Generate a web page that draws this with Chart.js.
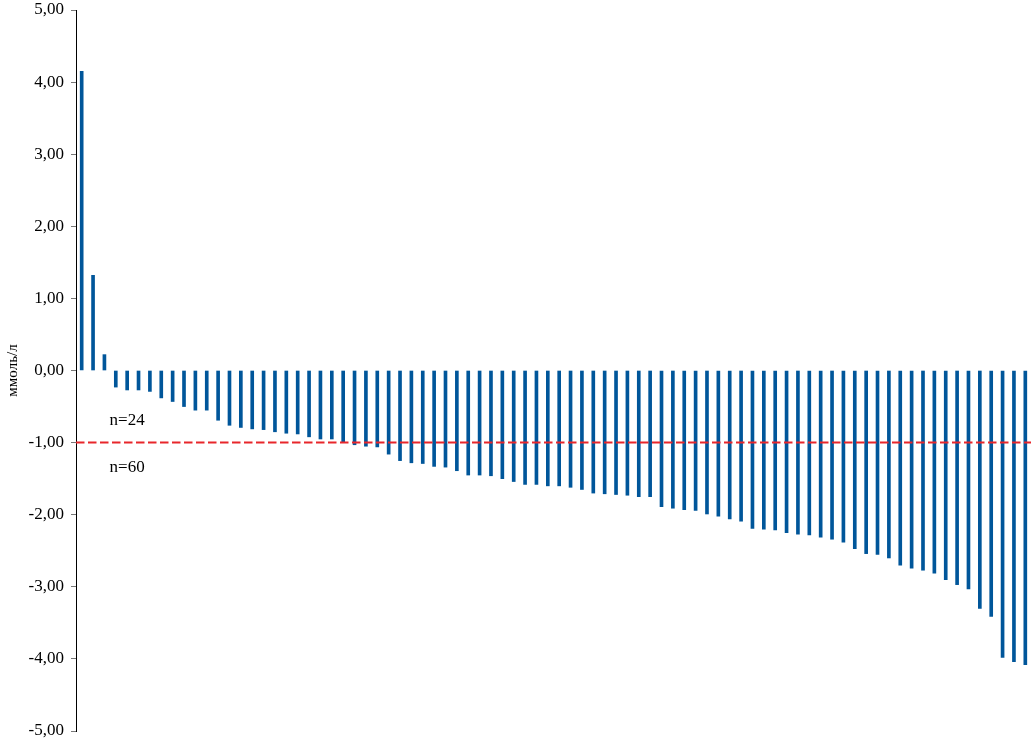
<!DOCTYPE html>
<html>
<head>
<meta charset="utf-8">
<script src="https://cdn.jsdelivr.net/npm/chart.js@4/dist/chart.umd.min.js"></script>
<style>
  body { margin: 0; background: #fff; }
</style>
</head>
<body>
<canvas id="deltaChart" width="1031" height="742"></canvas>
<script>
// change per patient, sorted, mmol/l
var values = [4.15, 1.32, 0.22, -0.23, -0.27, -0.27, -0.29, -0.38, -0.43, -0.50,
  -0.55, -0.55, -0.69, -0.76, -0.79, -0.81, -0.82, -0.85, -0.87, -0.88,
  -0.92, -0.95, -0.95, -0.99, -1.03, -1.05, -1.06, -1.16, -1.25, -1.28,
  -1.29, -1.33, -1.34, -1.39, -1.45, -1.45, -1.46, -1.50, -1.54, -1.58,
  -1.58, -1.60, -1.60, -1.62, -1.65, -1.70, -1.71, -1.72, -1.73, -1.75,
  -1.75, -1.89, -1.91, -1.93, -1.94, -1.99, -2.02, -2.06, -2.09, -2.19,
  -2.20, -2.21, -2.25, -2.27, -2.28, -2.31, -2.34, -2.38, -2.47, -2.54,
  -2.55, -2.60, -2.70, -2.74, -2.77, -2.81, -2.90, -2.97, -3.03, -3.30,
  -3.41, -3.98, -4.04, -4.08];
var labels = values.map(function (v, i) { return i + 1; });
var threshold = -1;
var countAbove = 'n=24';
var countBelow = 'n=60';

var serif = '"Liberation Serif", "Times New Roman", serif';

// dashed threshold line and the two counts
var thresholdPlugin = {
  id: 'threshold',
  afterDatasetsDraw: function (chart) {
    var ctx = chart.ctx;
    var area = chart.chartArea;
    var y = chart.scales.y;
    var x = chart.scales.x;
    var py = y.getPixelForValue(threshold);
    ctx.save();
    ctx.strokeStyle = '#e8262b';
    ctx.lineWidth = 2;
    ctx.setLineDash([8.5, 3.5]);
    ctx.beginPath();
    ctx.moveTo(area.left, py);
    ctx.lineTo(area.right, py);
    ctx.stroke();
    ctx.setLineDash([]);
    ctx.fillStyle = '#000';
    ctx.font = '17px ' + serif;
    ctx.textAlign = 'center';
    ctx.textBaseline = 'middle';
    ctx.fillText(countAbove, x.getPixelForValue(4), y.getPixelForValue(-0.69));
    ctx.fillText(countBelow, x.getPixelForValue(4), y.getPixelForValue(-1.34));
    ctx.restore();
  }
};

new Chart(document.getElementById('deltaChart'), {
  type: 'bar',
  data: {
    labels: labels,
    datasets: [{
      data: values,
      backgroundColor: '#00569a',
      barThickness: 3
    }]
  },
  options: {
    responsive: false,
    animation: false,
    layout: {
      padding: { top: 10, bottom: 11, left: 0, right: 0 }
    },
    plugins: {
      legend: { display: false },
      tooltip: { enabled: false }
    },
    scales: {
      x: {
        display: false,
        offset: true
      },
      y: {
        min: -5,
        max: 5,
        afterFit: function (scale) {
          scale.width = 76;
          scale.paddingTop = 0;
          scale.paddingBottom = 0;
        },
        border: { display: true, color: '#000', width: 1 },
        grid: {
          drawOnChartArea: false,
          drawTicks: true,
          tickLength: 5,
          color: '#777'
        },
        ticks: {
          stepSize: 1,
          padding: 7,
          color: '#000',
          font: { family: serif, size: 17 },
          callback: function (v) { return v.toFixed(2).replace('.', ','); }
        },
        title: {
          display: true,
          text: 'ммоль/л',
          color: '#000',
          padding: { top: 4, bottom: 0 },
          font: { family: serif, size: 15 }
        }
      }
    }
  },
  plugins: [thresholdPlugin]
});
</script>
</body>
</html>
